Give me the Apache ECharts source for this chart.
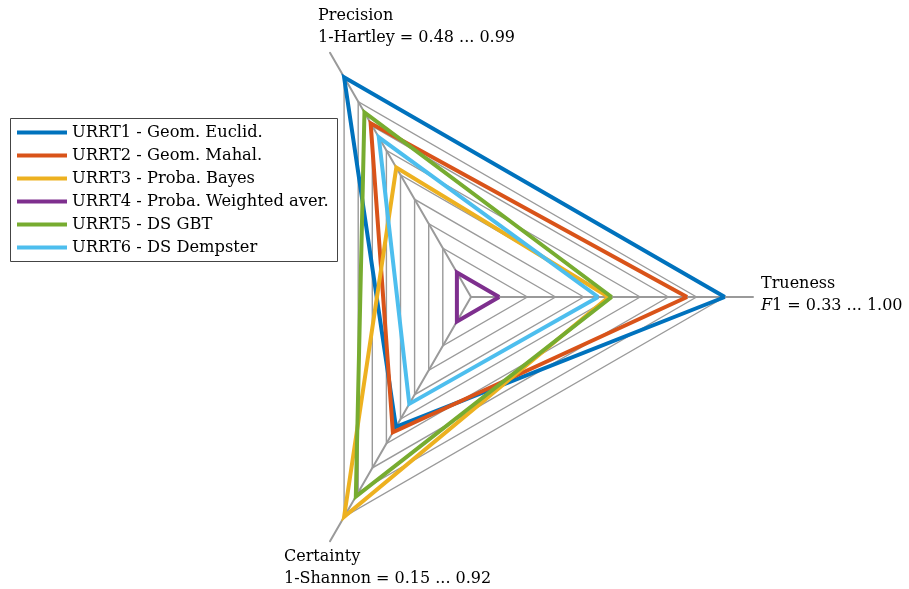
<!DOCTYPE html>
<html>
<head>
<meta charset="utf-8">
<script src="https://cdn.jsdelivr.net/npm/echarts@6/dist/echarts.min.js"></script>
<style>
  html, body { margin: 0; padding: 0; background: #fff; }
  #chart { width: 909px; height: 589px; }
</style>
</head>
<body>
<div id="chart"></div>
<script>
// Methods compared
const methods = [
  'URRT1 - Geom. Euclid.',
  'URRT2 - Geom. Mahal.',
  'URRT3 - Proba. Bayes',
  'URRT4 - Proba. Weighted aver.',
  'URRT5 - DS GBT',
  'URRT6 - DS Dempster'
];

// Metric values per method (same order as methods)
const trueness  = [1.00, 0.888, 0.655, 0.33, 0.664, 0.624];   // F1
const precision = [0.99, 0.870, 0.754, 0.48, 0.898, 0.833];   // 1-Hartley
const certainty = [0.566, 0.587, 0.92, 0.15, 0.840, 0.475];   // 1-Shannon

// Axis ranges: order = Trueness, Precision, Certainty
const axisNames = ['Trueness', 'Precision', 'Certainty'];
const axisLo = [0.33, 0.48, 0.15];
const axisHi = [1.00, 0.99, 0.92];

const colors = ['#0072BD', '#D95319', '#EDB120', '#7E2F8E', '#77AC30', '#4DBEEE'];

// Each range spans rings 1..9 of a 10-step radial scale
function toRing(v, k) {
  return 1 + 8 * (v - axisLo[k]) / (axisHi[k] - axisLo[k]);
}

const FONT = 'DejaVu Serif';
const gridGray = '#9a9a9a';

// ring colours: rings 0..9 drawn, ring 10 (axis end) hidden
const ringColors = [];
for (let i = 0; i <= 10; i++) ringColors.push(i < 10 ? gridGray : 'rgba(0,0,0,0)');

const series = methods.map(function (name, i) {
  return {
    type: 'radar',
    name: name,
    symbol: 'none',
    silent: true,
    z: 2 + i,
    lineStyle: { color: colors[i], width: 4, join: 'miter', miterLimit: 20 },
    itemStyle: { color: colors[i] },
    data: [{
      name: name,
      value: [toRing(trueness[i], 0), toRing(precision[i], 1), toRing(certainty[i], 2)]
    }]
  };
});

const chart = echarts.init(document.getElementById('chart'), null, { renderer: 'canvas' });

const labelFont = '16px "' + FONT + '"';

chart.setOption({
  animation: false,
  backgroundColor: '#ffffff',
  color: colors,
  radar: {
    center: [471, 297],
    radius: 282,
    startAngle: 0,
    splitNumber: 10,
    shape: 'polygon',
    indicator: axisNames.map(function (n) { return { name: n, min: 0, max: 10 }; }),
    axisName: { show: false },
    axisLine: { show: true, lineStyle: { color: gridGray, width: 2 } },
    axisTick: { show: false },
    axisLabel: { show: false },
    splitLine: { show: true, lineStyle: { color: ringColors, width: 1.4 } },
    splitArea: { show: false }
  },
  legend: {
    orient: 'vertical',
    left: 17,
    top: 121,
    padding: 0,
    itemGap: 0,
    itemWidth: 50,
    itemHeight: 4,
    icon: 'rect',
    selectedMode: false,
    data: methods,
    textStyle: { fontFamily: FONT, fontSize: 16.3, color: '#000', lineHeight: 23 }
  },
  graphic: [
    {
      type: 'rect', z: 0,
      shape: { x: 10.5, y: 118.5, width: 327, height: 143 },
      style: { fill: '#fff', stroke: '#444', lineWidth: 1 }
    },
    { type: 'text', left: 318, top: 8, style: { text: 'Precision', font: labelFont, fill: '#000' } },
    { type: 'text', left: 318, top: 30, style: { text: '1-Hartley = 0.48 ... 0.99', font: labelFont, fill: '#000' } },
    { type: 'text', left: 761, top: 276, style: { text: 'Trueness', font: labelFont, fill: '#000' } },
    {
      type: 'text', left: 761, top: 298,
      style: {
        text: '{i|F}1 = 0.33 ... 1.00',
        font: labelFont, fill: '#000',
        rich: { i: { fontStyle: 'italic', fontFamily: FONT, fontSize: 16 } }
      }
    },
    { type: 'text', left: 284, top: 549, style: { text: 'Certainty', font: labelFont, fill: '#000' } },
    { type: 'text', left: 284, top: 571, style: { text: '1-Shannon = 0.15 ... 0.92', font: labelFont, fill: '#000' } }
  ],
  series: series
});
</script>
</body>
</html>
